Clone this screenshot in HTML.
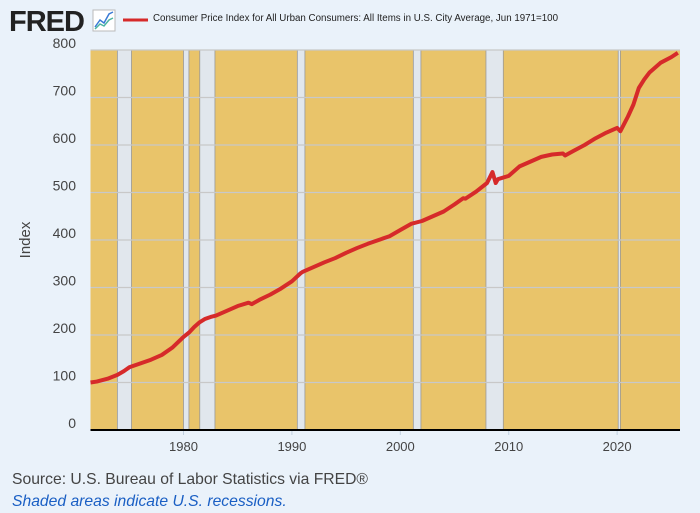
<!DOCTYPE html>
<html><head><meta charset="utf-8"><style>
body{margin:0;background:#eaf2fa;font-family:"Liberation Sans",sans-serif;}
#wrap{position:relative;width:700px;height:513px;background:#eaf2fa;overflow:hidden}
</style></head><body>
<div id="wrap">
<svg id="chart" width="700" height="513">
 <text x="9" y="31" font-size="29" font-weight="bold" fill="#222" font-family="Liberation Sans" letter-spacing="-1">FRED</text>
 <g>
  <rect x="93" y="10" width="22" height="21" fill="#fff" stroke="#bbb"/>
  <polyline points="95,27 100,20 104,23 109,14 113,12" fill="none" stroke="#3a7bd5" stroke-width="1.5"/>
  <polyline points="95,29 100,24 104,26 109,20 113,18" fill="none" stroke="#4cb5a0" stroke-width="1.5"/>
 </g>
 <line x1="123" y1="20" x2="148" y2="20" stroke="#d62a2a" stroke-width="3"/>
 <text x="153" y="21" font-size="10" fill="#222" textLength="405" lengthAdjust="spacingAndGlyphs">Consumer Price Index for All Urban Consumers: All Items in U.S. City Average, Jun 1971=100</text>
 <text transform="translate(30,240) rotate(-90)" text-anchor="middle" font-size="15" fill="#444">Index</text>
 <g id="plot"></g>
 <text x="12" y="484" font-size="15.7" fill="#444">Source: U.S. Bureau of Labor Statistics via FRED®</text>
 <text x="12" y="506" font-size="15.7" font-style="italic" fill="#1a5fc4">Shaded areas indicate U.S. recessions.</text>
</svg>
</div>
<script>
const years=[1971.42,1972,1973,1973.9,1974.5,1975,1976,1977,1978,1979,1980,1980.5,1981,1981.5,1982,1982.5,1983,1984,1985,1986,1986.3,1987,1988,1989,1990,1990.8,1991,1992,1993,1994,1995,1996,1997,1998,1999,2000,2001,2002,2003,2004,2005,2005.8,2006,2007,2008,2008.5,2008.8,2009,2010,2011,2012,2013,2014,2015,2015.2,2016,2017,2018,2019,2020,2020.3,2021,2021.5,2022,2022.5,2023,2024,2025,2025.6];
const values=[100,102,108,116,124,132,140,148,158,174,196,205,217,227,234,238,241,251,261,268,265,274,285,298,313,330,333,343,353,362,373,383,392,400,408,421,434,440,450,460,475,488,487,502,520,543,520,528,535,555,565,575,580,582,578,588,600,614,626,636,629,660,685,720,738,753,773,785,794];
const recStart=[1973.9,1980.0,1981.5,1990.5,2001.2,2007.9,2020.1];
const recEnd=[1975.2,1980.5,1982.9,1991.2,2001.9,2009.5,2020.3];
const yTicks=[0,100,200,300,400,500,600,700,800];
const xTicks=[1980,1990,2000,2010,2020];
const X0=90.5,X1=680,Y0=430,Y1=50,T0=1971.42,T1=2025.8,V1=800;
const xs=t=>X0+(t-T0)/(T1-T0)*(X1-X0);
const ys=v=>Y0-v/V1*(Y0-Y1);
const NS="http://www.w3.org/2000/svg";
const g=document.getElementById('plot');
function mk(tag,attrs){const e=document.createElementNS(NS,tag);for(const k in attrs)e.setAttribute(k,attrs[k]);g.appendChild(e);return e;}
const bg=mk('rect',{x:X0,y:Y1,width:X1-X0,height:Y0-Y1,fill:'#e9c46a'});


recStart.forEach((s,i)=>{
 const r=mk('rect',{x:xs(s),y:Y1,width:xs(recEnd[i])-xs(s),height:Y0-Y1,fill:'#e1e7ed',stroke:'#999','stroke-width':0.8});
 
 
});
yTicks.forEach(v=>{
 const l=mk('line',{x1:X0,x2:X1,y1:ys(v),y2:ys(v),stroke:'#c8c8c8','stroke-width':1.3});
 
 
 const t=mk('text',{x:76,y:ys(v)-2,'text-anchor':'end','font-size':14,fill:'#444'});
 t.textContent=v;
 
 
});
xTicks.forEach(yr=>{
 const l=mk('line',{x1:xs(yr),x2:xs(yr),y1:Y0,y2:Y0+5,stroke:'#c0d0e0'});
 
 
 const t=mk('text',{x:xs(yr),y:451,'text-anchor':'middle','font-size':13,fill:'#444'});
 t.textContent=yr;
 
 
});
const ax=mk('line',{x1:X0,x2:X1,y1:Y0,y2:Y0,stroke:'#000','stroke-width':2});


const ln=mk('polyline',{points:years.map((t,i)=>xs(t)+','+ys(values[i])).join(' '),fill:'none',stroke:'#d62a2a','stroke-width':4,'stroke-linejoin':'round'});


</script>
</body></html>
